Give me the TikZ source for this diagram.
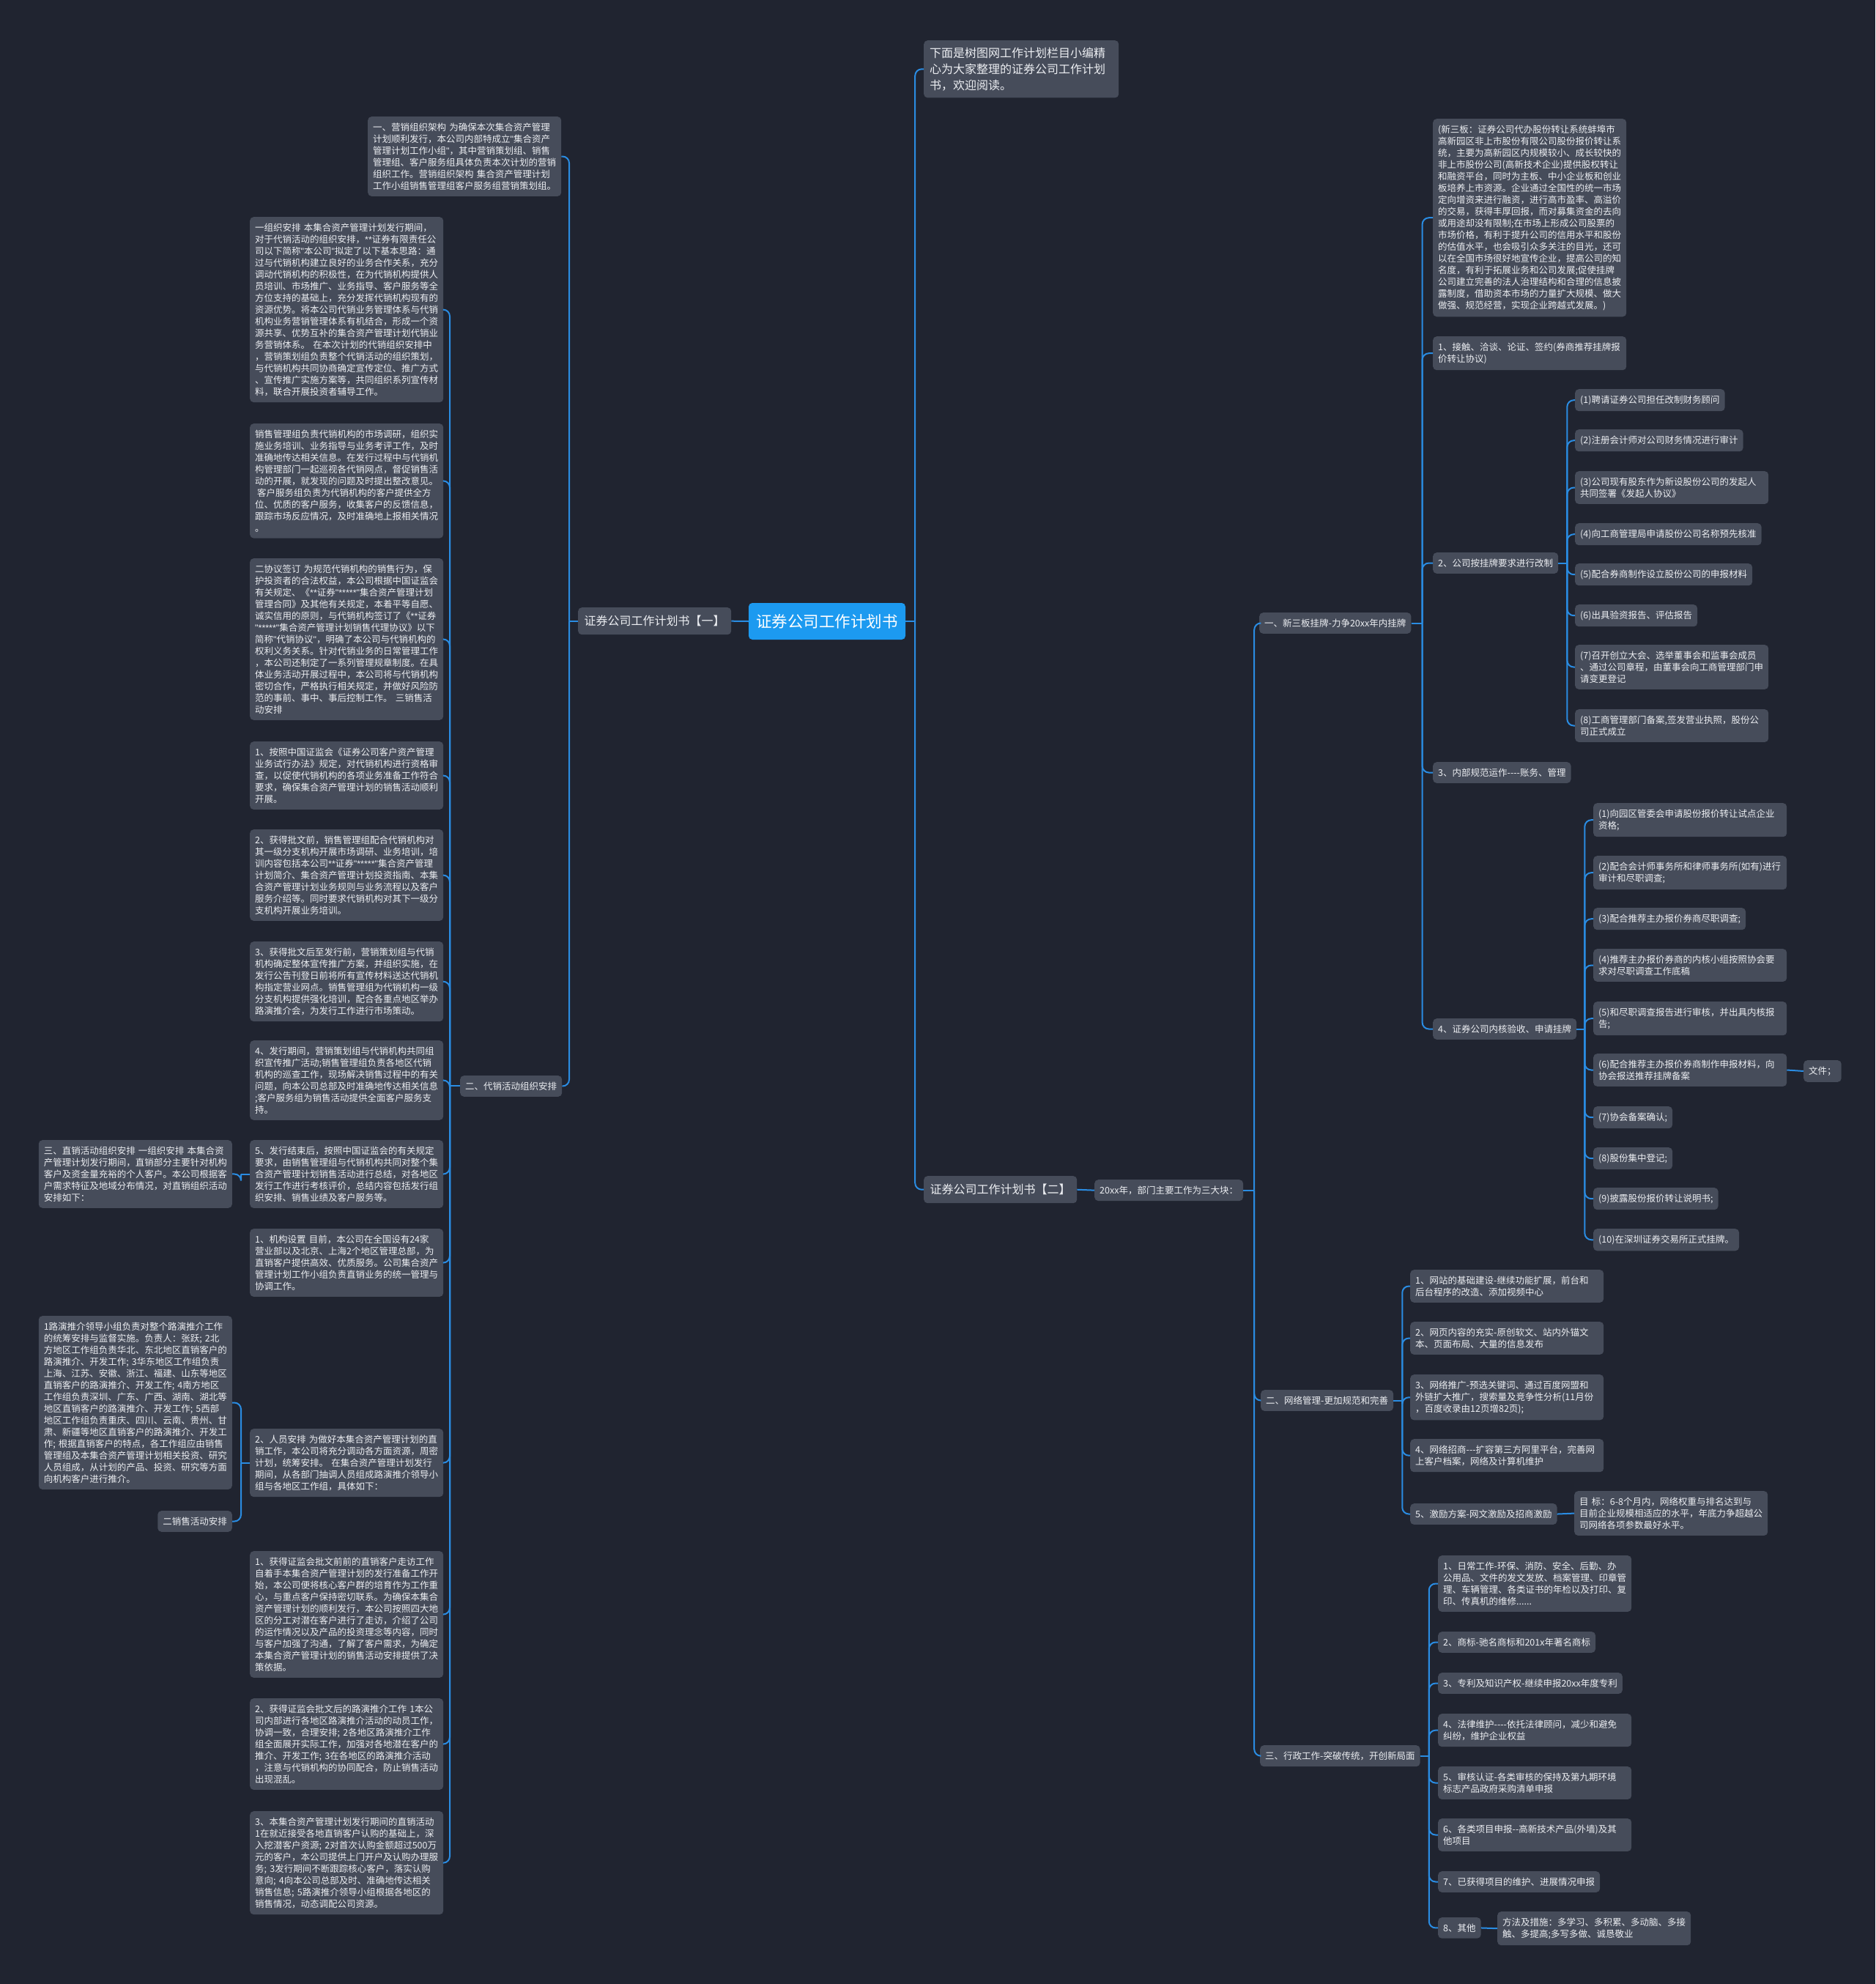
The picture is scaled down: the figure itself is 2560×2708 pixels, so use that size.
\documentclass[tikz,border=0pt]{standalone}
\usepackage{fontspec}
\setmainfont{Noto Sans CJK SC}
\newfontfamily\latf{Liberation Sans}
\usetikzlibrary{calc}
\definecolor{bgc}{RGB}{32,36,48}
\definecolor{boxc}{RGB}{70,76,90}
\definecolor{linec}{RGB}{42,140,226}
\definecolor{rootc}{RGB}{28,154,240}
\definecolor{txtc}{RGB}{236,238,242}
\newcommand{\linkR}[3][12]{\draw[link] (#2.east) -- ++(#1,0); \draw[link] ($(#2.east)+(#1,0)$) |- (#3.west);}
\newcommand{\linkL}[3][12]{\draw[link] (#2.west) -- ++(-#1,0); \draw[link] ($(#2.west)+(-#1,0)$) |- (#3.east);}
\begin{document}
\begin{tikzpicture}[x=1pt,y=-1pt,
  box/.style={fill=boxc, rounded corners=5pt, text=txtc, font=\fontsize{12.5}{16}\selectfont, align=left, inner xsep=7pt, inner ysep=8.5pt, minimum height=28pt},
  nw/.style={box, anchor=north west},
  ne/.style={box, anchor=north east},
  w/.style={text width=250pt},
  big/.style={fill=boxc, rounded corners=5pt, text=txtc, font=\fontsize{16}{20}\selectfont, inner xsep=8pt, minimum height=37pt, minimum width=209pt, anchor=north west},
  rootbox/.style={fill=rootc, rounded corners=5pt, text=white, font=\fontsize{21.5}{26}\selectfont, minimum width=214pt, minimum height=50pt},
  link/.style={draw=linec, line width=2pt, rounded corners=9pt}]
\fill[bgc] (0,0) rectangle (2560,2708);
\useasboundingbox (0,0) rectangle (2560,2708);

% ---------- centre ----------
\node[rootbox] (root) at (1129,848) {证券公司工作计划书};
\node[big] (p1) at (789,829) {证券公司工作计划书【一】};
\node[big] (p2) at (1261,1605) {证券公司工作计划书【二】};
\node[fill=boxc, rounded corners=5pt, text=txtc, font=\fontsize{16}{22}\selectfont, align=left, text width=250pt, inner xsep=8pt, inner ysep=9.5pt, anchor=north west] (intro) at (1261,55) {下面是树图网工作计划栏目小编精\\心为大家整理的证券公司工作计划\\书，欢迎阅读。};

% ---------- left side ----------
\node[nw,w] (T1) at (502,159) {一、营销组织架构 为确保本次集合资产管理\\计划顺利发行，本公司内部特成立{\latf"}集合资产\\管理计划工作小组{\latf"}，其中营销策划组、销售\\管理组、客户服务组具体负责本次计划的营销\\组织工作。营销组织架构 集合资产管理计划\\工作小组销售管理组客户服务组营销策划组。};
\node[nw] (dx) at (628,1468) {二、代销活动组织安排};

\node[nw,w] (B1) at (341,296) {一组织安排 本集合资产管理计划发行期间，\\对于代销活动的组织安排，{\latf**}证券有限责任公\\司以下简称{\latf"}本公司{\latf"}拟定了以下基本思路：通\\过与代销机构建立良好的业务合作关系，充分\\调动代销机构的积极性，在为代销机构提供人\\员培训、市场推广、业务指导、客户服务等全\\方位支持的基础上，充分发挥代销机构现有的\\资源优势。将本公司代销业务管理体系与代销\\机构业务营销管理体系有机结合，形成一个资\\源共享、优势互补的集合资产管理计划代销业\\务营销体系。 在本次计划的代销组织安排中\\，营销策划组负责整个代销活动的组织策划，\\与代销机构共同协商确定宣传定位、推广方式\\、宣传推广实施方案等，共同组织系列宣传材\\料，联合开展投资者辅导工作。};
\node[nw,w] (B2) at (341,578) {销售管理组负责代销机构的市场调研，组织实\\施业务培训、业务指导与业务考评工作，及时\\准确地传达相关信息。在发行过程中与代销机\\构管理部门一起巡视各代销网点，督促销售活\\动的开展，就发现的问题及时提出整改意见。\\\hspace*{3pt}客户服务组负责为代销机构的客户提供全方\\位、优质的客户服务，收集客户的反馈信息，\\跟踪市场反应情况，及时准确地上报相关情况\\。};
\node[nw,w] (B3) at (341,762) {二协议签订 为规范代销机构的销售行为，保\\护投资者的合法权益，本公司根据中国证监会\\有关规定、《{\latf**}证券{\latf"*****"}集合资产管理计划\\管理合同》及其他有关规定，本着平等自愿、\\诚实信用的原则，与代销机构签订了《{\latf**}证券\\{\latf"*****"}集合资产管理计划销售代理协议》以下\\简称{\latf"}代销协议{\latf"}，明确了本公司与代销机构的\\权利义务关系。针对代销业务的日常管理工作\\，本公司还制定了一系列管理规章制度。在具\\体业务活动开展过程中，本公司将与代销机构\\密切合作，严格执行相关规定，并做好风险防\\范的事前、事中、事后控制工作。 三销售活\\动安排};
\node[nw,w] (B4) at (341,1012) {1、按照中国证监会《证券公司客户资产管理\\业务试行办法》规定，对代销机构进行资格审\\查，以促使代销机构的各项业务准备工作符合\\要求，确保集合资产管理计划的销售活动顺利\\开展。};
\node[nw,w] (B5) at (341,1132) {2、获得批文前，销售管理组配合代销机构对\\其一级分支机构开展市场调研、业务培训，培\\训内容包括本公司{\latf**}证券{\latf"*****"}集合资产管理\\计划简介、集合资产管理计划投资指南、本集\\合资产管理计划业务规则与业务流程以及客户\\服务介绍等。同时要求代销机构对其下一级分\\支机构开展业务培训。};
\node[nw,w] (B6) at (341,1285) {3、获得批文后至发行前，营销策划组与代销\\机构确定整体宣传推广方案，并组织实施，在\\发行公告刊登日前将所有宣传材料送达代销机\\构指定营业网点。销售管理组为代销机构一级\\分支机构提供强化培训，配合各重点地区举办\\路演推介会，为发行工作进行市场策动。};
\node[nw,w] (B7) at (341,1420) {4、发行期间，营销策划组与代销机构共同组\\织宣传推广活动;销售管理组负责各地区代销\\机构的巡查工作，现场解决销售过程中的有关\\问题，向本公司总部及时准确地传达相关信息\\;客户服务组为销售活动提供全面客户服务支\\持。};
\node[nw,w] (B8) at (341,1556) {5、发行结束后，按照中国证监会的有关规定\\要求，由销售管理组与代销机构共同对整个集\\合资产管理计划销售活动进行总结，对各地区\\发行工作进行考核评价，总结内容包括发行组\\织安排、销售业绩及客户服务等。};
\node[nw,w] (B9) at (341,1677) {1、机构设置 目前，本公司在全国设有24家\\营业部以及北京、上海2个地区管理总部，为\\直销客户提供高效、优质服务。公司集合资产\\管理计划工作小组负责直销业务的统一管理与\\协调工作。};
\node[nw,w] (B10) at (341,1950) {2、人员安排 为做好本集合资产管理计划的直\\销工作，本公司将充分调动各方面资源，周密\\计划，统筹安排。 在集合资产管理计划发行\\期间，从各部门抽调人员组成路演推介领导小\\组与各地区工作组，具体如下：};
\node[nw,w] (B11) at (341,2117) {1、获得证监会批文前前的直销客户走访工作\\自着手本集合资产管理计划的发行准备工作开\\始，本公司便将核心客户群的培育作为工作重\\心，与重点客户保持密切联系。为确保本集合\\资产管理计划的顺利发行，本公司按照四大地\\区的分工对潜在客户进行了走访，介绍了公司\\的运作情况以及产品的投资理念等内容，同时\\与客户加强了沟通，了解了客户需求，为确定\\本集合资产管理计划的销售活动安排提供了决\\策依据。};
\node[nw,w] (B12) at (341,2318) {2、获得证监会批文后的路演推介工作 1本公\\司内部进行各地区路演推介活动的动员工作，\\协调一致，合理安排; 2各地区路演推介工作\\组全面展开实际工作，加强对各地潜在客户的\\推介、开发工作; 3在各地区的路演推介活动\\，注意与代销机构的协同配合，防止销售活动\\出现混乱。};
\node[nw,w] (B13) at (341,2472) {3、本集合资产管理计划发行期间的直销活动\\1在就近接受各地直销客户认购的基础上，深\\入挖潜客户资源; 2对首次认购金额超过500万\\元的客户，本公司提供上门开户及认购办理服\\务; 3发行期间不断跟踪核心客户，落实认购\\意向; 4向本公司总部及时、准确地传达相关\\销售信息; 5路演推介领导小组根据各地区的\\销售情况，动态调配公司资源。};

\node[ne,w] (L1) at (317,1556) {三、直销活动组织安排 一组织安排 本集合资\\产管理计划发行期间，直销部分主要针对机构\\客户及资金量充裕的个人客户。本公司根据客\\户需求特征及地域分布情况，对直销组织活动\\安排如下：};
\node[ne,w] (L2) at (317,1796) {1路演推介领导小组负责对整个路演推介工作\\的统筹安排与监督实施。负责人：张跃; 2北\\方地区工作组负责华北、东北地区直销客户的\\路演推介、开发工作; 3华东地区工作组负责\\上海、江苏、安徽、浙江、福建、山东等地区\\直销客户的路演推介、开发工作; 4南方地区\\工作组负责深圳、广东、广西、湖南、湖北等\\地区直销客户的路演推介、开发工作; 5西部\\地区工作组负责重庆、四川、云南、贵州、甘\\肃、新疆等地区直销客户的路演推介、开发工\\作; 根据直销客户的特点，各工作组应由销售\\管理组及本集合资产管理计划相关投资、研究\\人员组成，从计划的产品、投资、研究等方面\\向机构客户进行推介。};
\node[ne] (L3) at (317,2062) {二销售活动安排};

% ---------- right side ----------
\node[nw] (k) at (1494,1610) {20xx年，部门主要工作为三大块：};
\node[nw] (S) at (1719,836) {一、新三板挂牌-力争20xx年内挂牌};
\node[nw] (N) at (1721,1897) {二、网络管理-更加规范和完善};
\node[nw] (A) at (1720,2382) {三、行政工作-突破传统，开创新局面};

\node[nw,w] (S0) at (1956,162) {(新三板：证券公司代办股份转让系统蚌埠市\\高新园区非上市股份有限公司股份报价转让系\\统，主要为高新园区内规模较小、成长较快的\\非上市股份公司(高新技术企业)提供股权转让\\和融资平台，同时为主板、中小企业板和创业\\板培养上市资源。企业通过全国性的统一市场\\定向增资来进行融资，进行高市盈率、高溢价\\的交易，获得丰厚回报，而对募集资金的去向\\或用途却没有限制;在市场上形成公司股票的\\市场价格，有利于提升公司的信用水平和股份\\的估值水平，也会吸引众多关注的目光，还可\\以在全国市场很好地宣传企业，提高公司的知\\名度，有利于拓展业务和公司发展;促使挂牌\\公司建立完善的法人治理结构和合理的信息披\\露制度，借助资本市场的力量扩大规模、做大\\做强、规范经营，实现企业跨越式发展。)};
\node[nw,w] (S1) at (1956,459) {1、接触、洽谈、论证、签约(券商推荐挂牌报\\价转让协议)};
\node[nw] (S2) at (1956,754) {2、公司按挂牌要求进行改制};
\node[nw] (S3) at (1956,1040) {3、内部规范运作-{}-{}-{}-账务、管理};
\node[nw] (S4) at (1956,1390) {4、证券公司内核验收、申请挂牌};

\node[nw] (S21) at (2150,531) {(1)聘请证券公司担任改制财务顾问};
\node[nw] (S22) at (2150,586) {(2)注册会计师对公司财务情况进行审计};
\node[nw,w] (S23) at (2150,643) {(3)公司现有股东作为新设股份公司的发起人\\共同签署《发起人协议》};
\node[nw] (S24) at (2150,714) {(4)向工商管理局申请股份公司名称预先核准};
\node[nw] (S25) at (2150,769) {(5)配合券商制作设立股份公司的申报材料};
\node[nw] (S26) at (2150,825) {(6)出具验资报告、评估报告};
\node[nw,w] (S27) at (2150,880) {(7)召开创立大会、选举董事会和监事会成员\\、通过公司章程，由董事会向工商管理部门申\\请变更登记};
\node[nw,w] (S28) at (2150,968) {(8)工商管理部门备案,签发营业执照，股份公\\司正式成立};

\node[nw,w] (S41) at (2175,1096) {(1)向园区管委会申请股份报价转让试点企业\\资格;};
\node[nw,w] (S42) at (2175,1168) {(2)配合会计师事务所和律师事务所(如有)进行\\审计和尽职调查;};
\node[nw] (S43) at (2175,1239) {(3)配合推荐主办报价券商尽职调查;};
\node[nw,w] (S44) at (2175,1295) {(4)推荐主办报价券商的内核小组按照协会要\\求对尽职调查工作底稿};
\node[nw,w] (S45) at (2175,1367) {(5)和尽职调查报告进行审核，并出具内核报\\告;};
\node[nw,w] (S46) at (2175,1438) {(6)配合推荐主办报价券商制作申报材料，向\\协会报送推荐挂牌备案};
\node[nw] (S46a) at (2462,1447) {文件；};
\node[nw] (S47) at (2175,1510) {(7)协会备案确认;};
\node[nw] (S48) at (2175,1566) {(8)股份集中登记;};
\node[nw] (S49) at (2175,1621) {(9)披露股份报价转让说明书;};
\node[nw] (S410) at (2175,1677) {(10)在深圳证券交易所正式挂牌。};

\node[nw,w] (N1) at (1925,1733) {1、网站的基础建设-继续功能扩展，前台和\\后台程序的改造、添加视频中心};
\node[nw,w] (N2) at (1925,1804) {2、网页内容的充实-原创软文、站内外锚文\\本、页面布局、大量的信息发布};
\node[nw,w] (N3) at (1925,1876) {3、网络推广-预选关键词、通过百度网盟和\\外链扩大推广，搜索量及竞争性分析(11月份\\，百度收录由12页增82页);};
\node[nw,w] (N4) at (1925,1964) {4、网络招商-{}-{}-扩容第三方阿里平台，完善网\\上客户档案，网络及计算机维护};
\node[nw] (N5) at (1925,2052) {5、激励方案-网文激励及招商激励};
\node[nw,w] (N5a) at (2149,2035) {目 标：6-8个月内，网络权重与排名达到与\\目前企业规模相适应的水平，年底力争超越公\\司网络各项参数最好水平。};

\node[nw,w] (A1) at (1963,2123) {1、日常工作-环保、消防、安全、后勤、办\\公用品、文件的发文发放、档案管理、印章管\\理、车辆管理、各类证书的年检以及打印、复\\印、传真机的维修......};
\node[nw] (A2) at (1963,2227) {2、商标-驰名商标和201x年著名商标};
\node[nw] (A3) at (1963,2283) {3、专利及知识产权-继续申报20xx年度专利};
\node[nw,w] (A4) at (1963,2339) {4、法律维护-{}-{}-{}-依托法律顾问，减少和避免\\纠纷，维护企业权益};
\node[nw,w] (A5) at (1963,2411) {5、审核认证-各类审核的保持及第九期环境\\标志产品政府采购清单申报};
\node[nw,w] (A6) at (1963,2482) {6、各类项目申报-{}-高新技术产品(外墙)及其\\他项目};
\node[nw] (A7) at (1963,2554) {7、已获得项目的维护、进展情况申报};
\node[nw] (A8) at (1963,2617) {8、其他};
\node[nw,w] (A8a) at (2044,2609) {方法及措施：多学习、多积累、多动脑、多接\\触、多提高;多写多做、诚恳敬业};

% ---------- connectors ----------
\draw[link] (root.west) -- (p1.east);
\linkL{p1}{T1}
\linkL{p1}{dx}
\foreach \c in {B1,B2,B3,B4,B5,B6,B7,B8,B9,B10,B11,B12,B13} {\linkL[14]{dx}{\c}}
\linkL{B8}{L1}
\linkL{B10}{L2}
\linkL{B10}{L3}

\linkR[13]{root}{intro}
\linkR[13]{root}{p2}
\draw[link] (p2.east) -- (k.west);
\linkR[15]{k}{S}
\linkR[15]{k}{N}
\linkR[15]{k}{A}
\foreach \c in {S0,S1,S2,S3,S4} {\linkR[15]{S}{\c}}
\foreach \c in {S21,S22,S23,S24,S25,S26,S27,S28} {\linkR{S2}{\c}}
\foreach \c in {S41,S42,S43,S44,S45,S46,S47,S48,S49,S410} {\linkR[11]{S4}{\c}}
\draw[link] (S46.east) -- (S46a.west);
\foreach \c in {N1,N2,N3,N4,N5} {\linkR{N}{\c}}
\draw[link] (N5.east) -- (N5a.west);
\foreach \c in {A1,A2,A3,A4,A5,A6,A7,A8} {\linkR{A}{\c}}
\draw[link] (A8.east) -- (A8a.west);
\end{tikzpicture}
\end{document}
